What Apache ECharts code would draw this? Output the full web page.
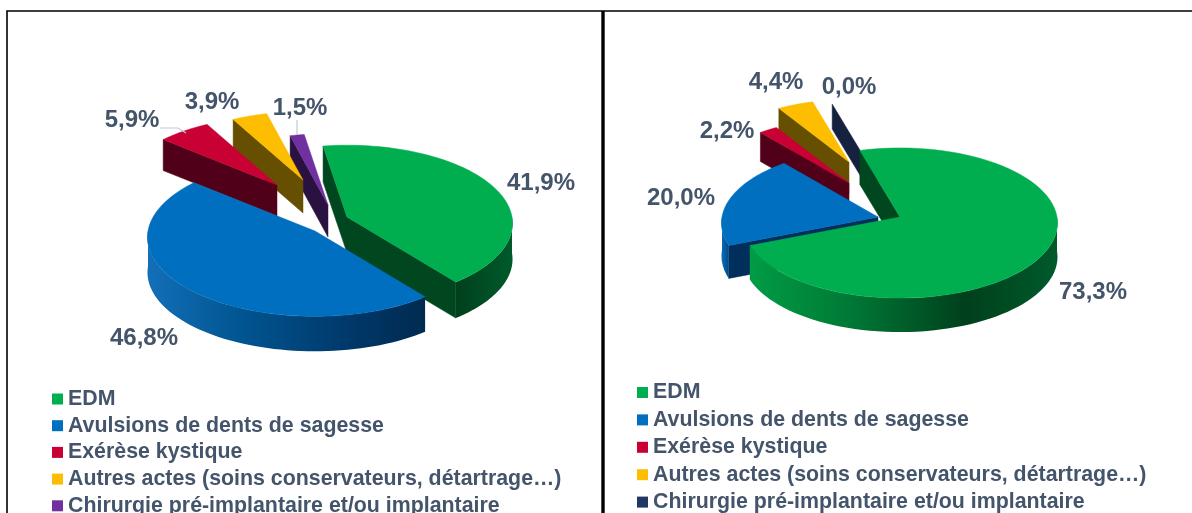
<!DOCTYPE html>
<html><head><meta charset="utf-8">
<style>html,body{margin:0;padding:0;background:#fff;overflow:hidden}#c{width:1192px;height:513px}</style>
<script src="https://cdn.jsdelivr.net/npm/echarts@6/dist/echarts.min.js"></script>
</head><body><div id="c"></div>
<script>
// ---- data ----
const categories = ['EDM','Avulsions de dents de sagesse','Exérèse kystique','Autres actes (soins conservateurs, détartrage…)','Chirurgie pré-implantaire et/ou implantaire'];
const leftValues  = [41.9, 46.8, 5.9, 3.9, 1.5];
const rightValues = [73.3, 20.0, 2.2, 4.4, 0.0];

// ---- styles and layout (not data) ----
const FONT = '"Liberation Sans", Arial, sans-serif';
const TEXT = '#44546a';
const topColors = ['#00ae50','#006fc0','#c80034','#fdbd00','#7030a0'];
const rightTop5 = '#1f3864';
const wallColors = ['#00461f','#002f5c','#500018','#664f00','#2a1240'];
const rightWall5 = '#16213f';

const pies = [
  { values:leftValues, start:-9, k:.47, p:.08,
    apex:[[347,217],[315,231],[277,185],[303,180],[328,205]],
    R:[165,167,157,157,164], depth:[36,35,31,33,32],
    order:[0,4,3,2,1],
    labels:[[541,183],[144,338],[132,120],[212,102],[300,108]],
    top:topColors, wall:wallColors,
    arc:[[[0,'#00401d'],[1,'#005a2b']],[[0,'#136fb8'],[.35,'#00548f'],[.7,'#003a6c'],[1,'#002a50']]] },
  { values:rightValues, start:-16, k:.475, p:.08,
    apex:[[900,217],[878,217],[849,183],[849,162],[878,180]],
    R:[157,156,147,142,179], depth:[34,33,29,32,25],
    order:[4,3,2,1,0],
    labels:[[1093,292],[681,198],[727,131],[776,82],[849,87]],
    top:topColors.slice(0,4).concat(rightTop5), wall:wallColors.slice(0,4).concat(rightWall5),
    arc:[[[0,'#009c45'],[.3,'#007c37'],[.7,'#00401c'],[1,'#005a2b']],[[0,'#0a6cb8'],[1,'#004a88']]] }
];

const rad = d => d*Math.PI/180;
function project(pie,i,deg,dy){
  const u=Math.sin(rad(deg)), v=-Math.cos(rad(deg)), s=1/(1-pie.p*v), R=pie.R[i], a=pie.apex[i];
  return [a[0]+R*u*s, a[1]+pie.k*R*v*s+(dy||0)];
}
function sliceAngles(pie,i){
  const sum=pie.values.reduce((t,x)=>t+x,0);
  let a=pie.start;
  for(let j=0;j<i;j++) a+=pie.values[j]/sum*360;
  return [a,a+pie.values[i]/sum*360];
}
function renderSlice(pieIdx,i){
  return function(params,api){
    const pie=pies[pieIdx], val=api.value(0), d=pie.depth[i], apex=pie.apex[i];
    const [a0,a1]=sliceAngles(pie,i);
    const kids=[], P0=project(pie,i,a0), P1=project(pie,i,a1), wall=pie.wall[i];
    const quad=(A,B,fill)=>kids.push({type:'polygon',shape:{points:[A,B,[B[0],B[1]+d],[A[0],A[1]+d]]},style:{fill,stroke:fill,lineWidth:.5}});
    if(P0[0]<apex[0]) quad(apex,P0,wall);
    if(apex[0]<P1[0]) quad(P1,apex,wall);
    // outer wall: front-facing part of the arc
    const lo=Math.max(a0,90), hi=Math.min(a1,270);
    if(hi>lo){
      const upper=[],lower=[];
      for(let t=0;t<=60;t++){const a=lo+(hi-lo)*t/60;upper.push(project(pie,i,a));lower.unshift(project(pie,i,a,d));}
      const stops=(pie.arc[i]||[[0,wall],[1,wall]]).map(s=>({offset:s[0],color:s[1]}));
      kids.push({type:'polygon',shape:{points:upper.concat(lower)},style:{fill:new echarts.graphic.LinearGradient(0,0,1,0,stops)}});
    }
    if(a1-a0>0){
      const top=[apex];
      for(let t=0;t<=80;t++) top.push(project(pie,i,a0+(a1-a0)*t/80));
      kids.push({type:'polygon',shape:{points:top},style:{fill:pie.top[i],stroke:pie.top[i],lineWidth:.5}});
    }
    kids.push({type:'text',x:pie.labels[i][0],y:pie.labels[i][1],z2:50,
      style:{text:val.toFixed(1).replace('.',',')+'%',fill:TEXT,font:'bold 24px '+FONT,align:'center',verticalAlign:'middle'}});
    return {type:'group',children:kids};
  };
}
const series=[];
pies.forEach((pie,pi)=>{
  pie.order.forEach((i,n)=>{
    series.push({type:'custom',name:categories[i],coordinateSystem:'none',silent:true,z:2+n,
      itemStyle:{color:pie.top[i]},data:[[pie.values[i]]],renderItem:renderSlice(pi,i)});
  });
});
const legendFor=(pie,left,top,gap)=>({
  orient:'vertical',left,top,height:400,width:560,padding:0,itemGap:gap,itemWidth:11,itemHeight:11,icon:'rect',
  selectedMode:false,align:'left',
  textStyle:{color:TEXT,fontFamily:'Liberation Sans',fontWeight:'bold',fontSize:21.35,lineHeight:20,padding:0},
  data:categories.map((name,i)=>({name,itemStyle:{color:pie.top[i]}}))
});
const line=(points,stroke,lineWidth)=>({type:'polyline',z:20,silent:true,shape:{points},style:{fill:'none',stroke,lineWidth}});
const chart=echarts.init(document.getElementById('c'),null,{renderer:'canvas'});
chart.setOption({
  animation:false,backgroundColor:'#fff',
  legend:[legendFor(pies[0],52,388.5,5.7),legendFor(pies[1],637,382,6.4)],
  series,
  graphic:[
    line([[7,513],[7,11],[1192,11]],'#000',1.6),
    line([[603,11],[603,513]],'#000',3.4),
    line([[160,128],[178,128],[186,133]],'#bfc9d6',1.2),
    line([[297,120],[297,135]],'#bfc9d6',1.2)
  ]
});
</script></body></html>
